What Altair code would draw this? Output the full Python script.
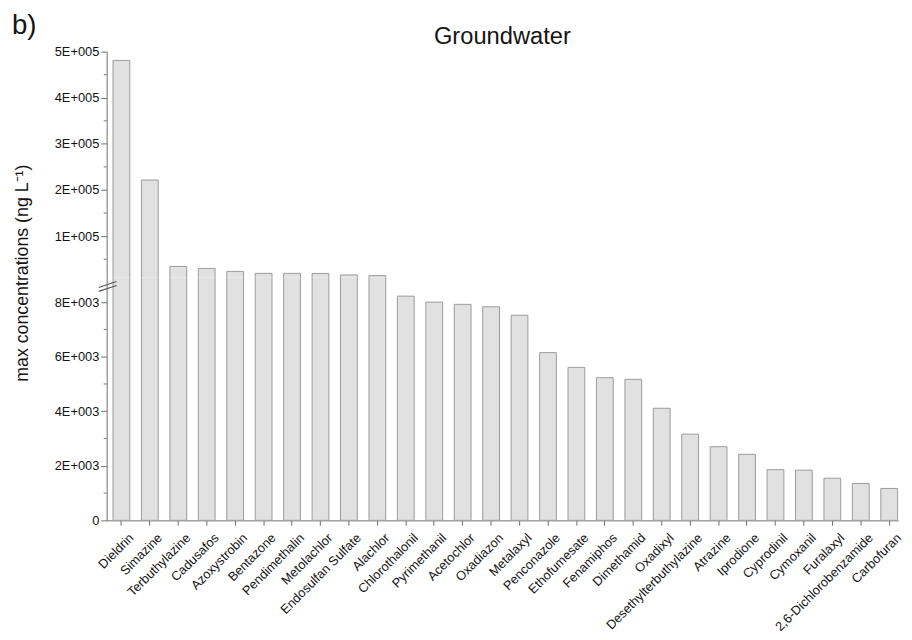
import altair as alt
import pandas as pd

compounds = [
    "Dieldrin", "Simazine", "Terbuthylazine", "Cadusafos", "Azoxystrobin",
    "Bentazone", "Pendimethalin", "Metolachlor", "Endosulfan Sulfate", "Alachlor",
    "Chlorothalonil", "Pyrimethanil", "Acetochlor", "Oxadiazon", "Metalaxyl",
    "Penconazole", "Ethofumesate", "Fenamiphos", "Dimethamid", "Oxadixyl",
    "Desethylterbuthylazine", "Atrazine", "Iprodione", "Cyprodinil", "Cymoxanil",
    "Furalaxyl", "2,6-Dichlorobenzamide", "Carbofuran",
]
max_conc = [
    481000, 221600, 34200, 29900, 23500,
    19200, 19200, 19000, 15800, 14300,
    8220, 8000, 7920, 7830, 7520,
    6150, 5610, 5230, 5170, 4110,
    3160, 2700, 2420, 1860, 1840,
    1545, 1350, 1170,
]

upper_ticks = [100000, 200000, 300000, 400000, 500000]
upper_tick_labels = ["1E+005", "2E+005", "3E+005", "4E+005", "5E+005"]
upper_minor = [50000, 150000, 250000, 350000, 450000]
lower_ticks = [0, 2000, 4000, 6000, 8000]
lower_tick_labels = ["0", "2E+003", "4E+003", "6E+003", "8E+003"]
lower_minor = [1000, 3000, 5000, 7000]

panel_tag = "b)"
panel_title = "Groundwater"
y_title = "max concentrations (ng L\u207b\u00b9)"

LOWER_MAX = 8900
UPPER_MIN = 10000
UPPER_MAX = 500000

FONT = "Liberation Sans"
W = 802
H_UP = 229
H_LO = 246
BAR_FILL = "#e1e1e1"
BAR_STROKE = "#9a9a9a"
AXIS_COLOR = "#707070"
TEXT_COLOR = "#141414"

df = pd.DataFrame({"compound": compounds, "conc": max_conc})


def label_expr(vals, labels):
    parts = [f"datum.value == {v} ? '{l}'" for v, l in zip(vals, labels)]
    return " : ".join(parts) + " : ''"


x_scale = alt.Scale(domain=compounds, paddingInner=0.41, paddingOuter=0.12, align=0.93)
y_up_scale = alt.Scale(domain=[UPPER_MIN, UPPER_MAX], zero=False, nice=False)
y_lo_scale = alt.Scale(domain=[0, LOWER_MAX], zero=False, nice=False)

bar_kw = dict(color=BAR_FILL, stroke=BAR_STROKE, strokeWidth=1, clip=True)

# ---------- upper panel ----------
upper_bars = (
    alt.Chart(df)
    .transform_filter(alt.datum.conc > LOWER_MAX)
    .mark_bar(**bar_kw)
    .encode(
        x=alt.X("compound:N", scale=x_scale, axis=None),
        y=alt.Y(
            "conc:Q",
            scale=y_up_scale,
            axis=alt.Axis(
                values=upper_ticks,
                labelExpr=label_expr(upper_ticks, upper_tick_labels),
                title=y_title,
                titleFont=FONT,
                titleFontSize=18,
                titleFontWeight="normal",
                titleColor=TEXT_COLOR,
                titleX=-85,
                titleY=224,
                titleAngle=270,
                titleAlign="center",
                titleBaseline="middle",
                labelFont=FONT,
                labelFontSize=13,
                labelColor=TEXT_COLOR,
                labelPadding=2,
                tickSize=6,
                tickColor=AXIS_COLOR,
                domainColor=AXIS_COLOR,
                grid=False,
            ),
        ),
    )
)

upper_minor_ticks = (
    alt.Chart(pd.DataFrame({"conc": upper_minor}))
    .mark_rule(color=AXIS_COLOR, strokeWidth=1)
    .encode(y=alt.Y("conc:Q", scale=y_up_scale), x=alt.value(-3), x2=alt.value(0))
)

tag_text = (
    alt.Chart(pd.DataFrame({"t": [panel_tag]}))
    .mark_text(font=FONT, fontSize=28, align="left", baseline="top", color=TEXT_COLOR)
    .encode(text="t:N", x=alt.value(-96), y=alt.value(-40))
)

title_text = (
    alt.Chart(pd.DataFrame({"t": [panel_title]}))
    .mark_text(font=FONT, fontSize=24, align="center", baseline="alphabetic", color=TEXT_COLOR)
    .encode(text="t:N", x=alt.value(W / 2), y=alt.value(-8))
)

upper = alt.layer(upper_bars, upper_minor_ticks, tag_text, title_text).properties(
    width=W, height=H_UP
)

# ---------- lower panel ----------
lower_bars = (
    alt.Chart(df)
    .mark_bar(**bar_kw)
    .encode(
        x=alt.X(
            "compound:N",
            scale=x_scale,
            axis=alt.Axis(
                title=None,
                labelAngle=-45,
                labelAlign="right",
                labelBaseline="top",
                labelFont=FONT,
                labelFontSize=13,
                labelColor=TEXT_COLOR,
                labelPadding=6,
                labelOffset=6,
                labelLimit=300,
                tickSize=5,
                tickColor=AXIS_COLOR,
                domainColor=AXIS_COLOR,
                labelOverlap=False,
            ),
        ),
        y=alt.Y(
            "conc:Q",
            scale=y_lo_scale,
            axis=alt.Axis(
                values=lower_ticks,
                labelExpr=label_expr(lower_ticks, lower_tick_labels),
                title=None,
                labelFont=FONT,
                labelFontSize=13,
                labelColor=TEXT_COLOR,
                labelPadding=2,
                tickSize=6,
                tickColor=AXIS_COLOR,
                domainColor=AXIS_COLOR,
                grid=False,
            ),
        ),
    )
)

lower_minor_ticks = (
    alt.Chart(pd.DataFrame({"conc": lower_minor}))
    .mark_rule(color=AXIS_COLOR, strokeWidth=1)
    .encode(y=alt.Y("conc:Q", scale=y_lo_scale), x=alt.value(-3), x2=alt.value(0))
)

break_a = (
    alt.Chart(pd.DataFrame({"k": [0]}))
    .mark_rule(color="#555555", strokeWidth=1.2)
    .encode(x=alt.value(-8), x2=alt.value(10), y=alt.value(10), y2=alt.value(4))
)
break_b = (
    alt.Chart(pd.DataFrame({"k": [0]}))
    .mark_rule(color="#555555", strokeWidth=1.2)
    .encode(x=alt.value(-8), x2=alt.value(10), y=alt.value(14), y2=alt.value(8))
)

lower = alt.layer(lower_bars, lower_minor_ticks, break_a, break_b).properties(width=W, height=H_LO)

chart = (
    alt.vconcat(upper, lower, spacing=0, bounds="flush")
    .properties(padding={"left": 4, "top": 0, "right": 0, "bottom": 0}, background="white")
    .configure_view(stroke=None)
)

chart.save("out.html", embed_options={"renderer": "svg", "actions": False})
